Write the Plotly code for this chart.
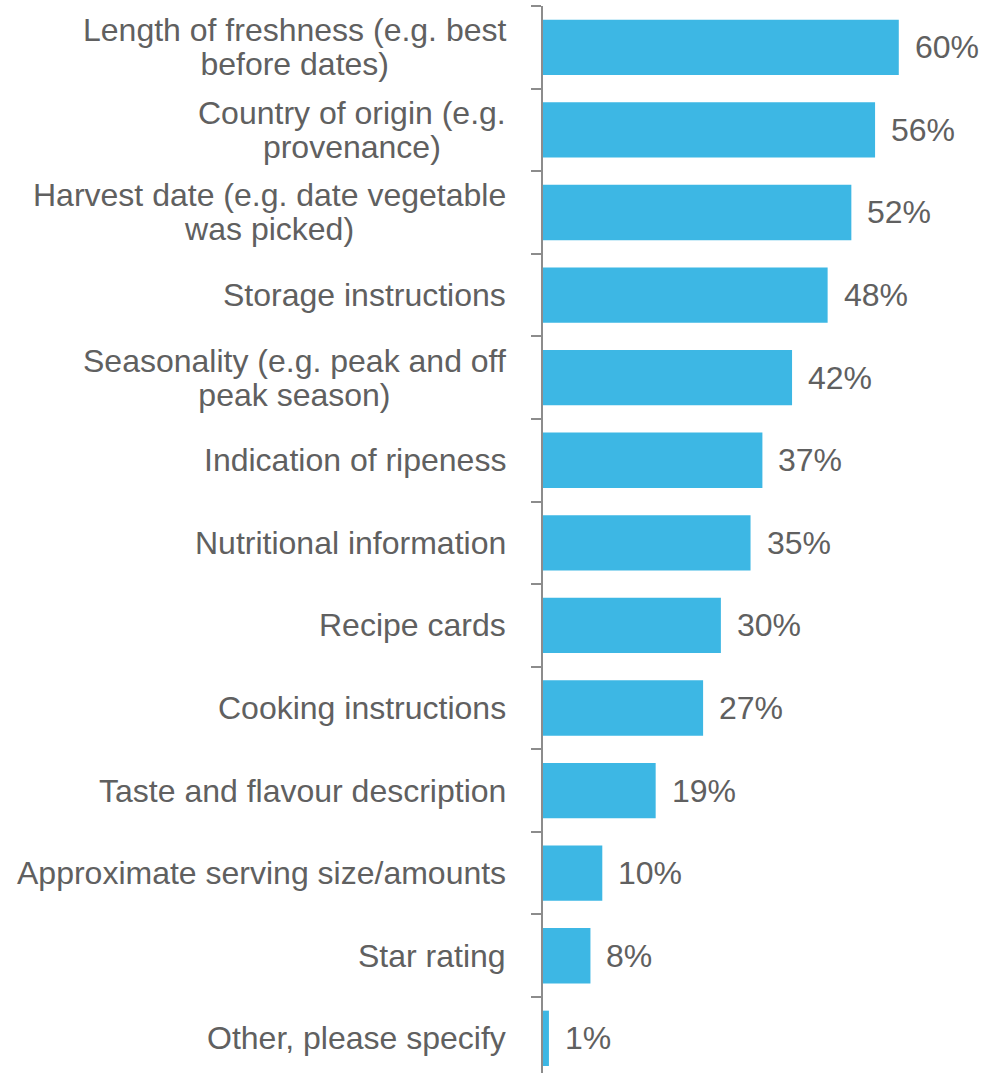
import plotly.graph_objects as go

categories = [
    "Length of freshness (e.g. best<br>before dates)",
    "Country of origin (e.g.<br>provenance)",
    "Harvest date (e.g. date vegetable<br>was picked)",
    "Storage instructions",
    "Seasonality (e.g. peak and off<br>peak season)",
    "Indication of ripeness",
    "Nutritional information",
    "Recipe cards",
    "Cooking instructions",
    "Taste and flavour description",
    "Approximate serving size/amounts",
    "Star rating",
    "Other, please specify",
]
values = [60, 56, 52, 48, 42, 37, 35, 30, 27, 19, 10, 8, 1]

pos = list(range(len(categories)))
grey = "#606060"
fam = "Liberation Sans, Arial"
font = dict(size=32, color=grey, family=fam)
fig = go.Figure(go.Bar(
    x=values, y=pos, orientation="h", width=0.67,
    marker=dict(color="#3DB7E4", line=dict(width=0)),
    hoverinfo="skip",
))

for p, v, c in zip(pos, values, categories):
    fig.add_annotation(x=v, y=p, xref="x", yref="y", text=f"{v}%", showarrow=False,
                       xanchor="left", xshift=14, font=font)
    lines = c.split("<br>")
    if len(lines) == 1:
        fig.add_annotation(x=0, y=p, xref="paper", yref="y", text=c, showarrow=False,
                           xanchor="right", xshift=-35, font=font)
    else:
        txt = "<br>".join(f'<span style="font-size:32px">{l}</span>' for l in lines)
        fig.add_annotation(x=0, y=p, xref="paper", yref="y", text=txt, showarrow=False,
                           xanchor="right", xshift=-35, align="center",
                           font=dict(size=26, color=grey, family=fam))

fig.update_layout(
    width=999, height=1073,
    margin=dict(l=543, r=0, t=6, b=0),
    paper_bgcolor="white", plot_bgcolor="white",
    showlegend=False,
    xaxis=dict(range=[0, 76.9], visible=False, fixedrange=True),
    yaxis=dict(range=[12.42, -0.5], tickvals=[p - 0.5 for p in pos] + [12.5],
               ticktext=[""] * 14, ticks="outside", ticklen=10, tickwidth=1.5,
               tickcolor="#8c8c8c", showline=True, linecolor="#8c8c8c", linewidth=1.5,
               showgrid=False, zeroline=False, fixedrange=True),
)
fig.write_html("out.html")
